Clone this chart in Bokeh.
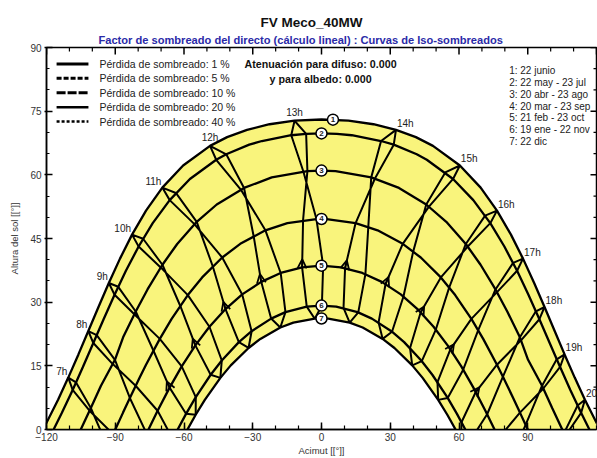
from bokeh.plotting import figure
from bokeh.models import Range1d, FixedTicker, Title, Arrow, OpenHead, ColumnDataSource, Label
from bokeh.core.properties import value
from bokeh.embed import file_html
from bokeh.resources import INLINE

FONT = "Liberation Sans"

TITLE = "FV Meco_40MW"
SUBTITLE = "Factor de sombreado del directo (cálculo lineal) : Curvas de Iso-sombreados"
X_LABEL = "Acimut [[°]]"
Y_LABEL = "Altura del sol [[°]]"
X_TICKS = [-120, -90, -60, -30, 0, 30, 60, 90, 120]
X_MINOR = [-120, -110, -100, -90, -80, -70, -60, -50, -40, -30, -20, -10, 0, 10, 20, 30, 40, 50, 60, 70, 80, 90, 100, 110, 120]
Y_TICKS = [0, 15, 30, 45, 60, 75, 90]
Y_MINOR = [0, 5, 10, 15, 20, 25, 30, 35, 40, 45, 50, 55, 60, 65, 70, 75, 80, 85, 90]

# ---- hour lines: sun position (azimut, altura) at each legal hour, per date ----
HOUR_LABELS = ["7h", "8h", "9h", "10h", "11h", "12h", "13h", "14h", "15h", "16h", "17h", "18h", "19h", "20h"]

jun22_az = [-110.5, -101.75, -92.8, -82.67, -69.45, -48.64, -11.76, 32.5, 60.38, 76.57, 87.93, 97.32, 106.07, 114.95]
jun22_alt = [12.23, 23.19, 34.51, 45.91, 56.99, 66.82, 72.75, 70.60, 62.2, 51.57, 40.26, 28.86, 17.69, 7.0]

may22_az = [-107.11, -98.10, -88.70, -77.86, -63.54, -41.56, -6.70, 31.53, 57.41, 73.65, 85.35, 95.08, 104.12, 113.28]
may22_alt = [11.09, 22.23, 33.62, 44.94, 55.73, 64.84, 69.64, 67.11, 59.03, 48.61, 37.39, 25.98, 14.73, 3.92]
jul23_az = [-108.58, -99.57, -90.30, -79.80, -66.24, -45.94, -13.20, 25.99, 54.02, 71.40, 83.62, 93.56, 102.65, 111.75]
jul23_alt = [9.32, 20.38, 31.76, 43.11, 54.04, 63.55, 69.33, 67.97, 60.56, 50.39, 39.25, 27.84, 16.54, 5.64]

apr20_az = [-100.66, -90.13, -81.06, -69.41, -54.45, -33.80, -6.15, 23.32, 46.89, 63.83, 76.59, 87.15, 96.80, 106.39]
apr20_alt = [5.07, 16.42, 27.80, 38.82, 48.92, 56.91, 60.87, 59.14, 52.51, 43.10, 32.36, 21.06, 9.66, -1.52]
aug23_az = [-101.22, -91.70, -81.68, -70.17, -55.46, -35.22, -7.91, 21.70, 45.71, 62.97, 75.92, 86.57, 96.24, 105.81]
aug23_alt = [4.42, 15.75, 27.14, 38.19, 48.38, 56.53, 60.79, 59.40, 53.01, 43.71, 33.00, 21.73, 10.32, -0.87]

mar20_az = [-93.4, -83.63, -73.36, -61.66, -47.46, -29.62, -8.04, 14.88, 35.45, 52.08, 65.40, 76.57, 86.60, 96.37]
mar20_alt = [-3.98, 7.43, 18.61, 29.16, 38.46, 45.60, 49.31, 48.63, 43.74, 35.83, 26.06, 15.27, 3.98, -7.43]
sep23_az = [-90.93, -81.11, -70.56, -58.33, -43.32, -24.47, -2.21, 20.43, 40.03, 55.74, 68.39, 79.18, 89.07, 98.89]
sep23_alt = [-1.09, 10.30, 21.35, 31.67, 40.52, 46.92, 49.57, 47.76, 41.97, 33.48, 23.40, 12.44, 1.09, -10.30]

feb21_az = [-85.87, -76.32, -66.28, -55.04, -41.89, -26.30, -8.46, 10.29, 27.95, 43.29, 56.23, 67.31, 77.27, 86.81]
feb21_alt = [-12.22, -0.95, 9.86, 19.82, 28.37, 34.79, 38.22, 38.03, 34.28, 27.61, 18.88, 8.83, -2.05, -13.34]
oct23_az = [-81.22, -71.52, -61.00, -48.90, -34.60, -17.81, 0.72, 19.16, 35.77, 49.89, 61.83, 72.28, 81.94, 91.55]
oct23_alt = [-6.68, 4.41, 14.86, 24.21, 31.83, 36.88, 38.59, 36.61, 31.33, 23.55, 14.10, 3.59, -7.53, -18.92]

jan19_az = [-77.78, -68.73, -59.11, -48.36, -36.06, -21.98, -6.44, 9.61, 24.91, 38.64, 50.61, 61.09, 70.56, 79.57]
jan19_alt = [-17.49, -6.57, 3.69, 12.90, 20.58, 26.13, 28.95, 28.63, 25.23, 19.20, 11.17, 1.72, -8.70, -19.72]
nov22_az = [-74.10, -64.88, -54.86, -43.52, -30.49, -15.73, 0.16, 16.04, 30.77, 43.76, 55.07, 65.07, 74.28, 83.27]
nov22_alt = [-12.94, -2.25, 7.62, 16.27, 23.15, 27.65, 29.20, 27.59, 23.04, 16.11, 7.43, -2.46, -13.17, -24.36]

dec22_az = [-73.4, -64.5, -54.9, -44.13, -31.83, -17.97, -2.94, 12.29, 26.68, 39.59, 50.92, 60.92, 70.04, 78.77]
dec22_alt = [-17.0, -6.38, 3.48, 12.16, 19.21, 24.03, 26.10, 25.17, 21.35, 15.11, 6.98, -2.48, -12.87, -23.9]

# ---- date curves (sun paths) ----
arc1_az = [-121.5, -114.95, -110.5, -106.07, -101.75, -97.32, -92.8, -87.93, -82.67, -76.57, -69.45, -60.38, -48.64, -41.19, -32.5, -22.67, -11.76, 0,
           11.76, 22.67, 32.5, 41.19, 48.64, 60.38, 69.45, 76.57, 82.67, 87.93, 92.8, 97.32, 101.75, 106.07, 110.5, 114.95, 121.5]
arc1_alt = [0, 7.0, 12.23, 17.69, 23.19, 28.86, 34.51, 40.26, 45.91, 51.57, 56.99, 62.2, 66.82, 68.88, 70.6, 71.92, 72.75, 73.04,
            72.75, 71.92, 70.6, 68.88, 66.82, 62.2, 56.99, 51.57, 45.91, 40.26, 34.51, 28.86, 23.19, 17.69, 12.23, 7.0, 0]
arc2_az = [-116.9, -113.28, -108.58, -104.12, -99.57, -95.08, -90.30, -85.35, -79.80, -73.65, -66.24, -57.41, -45.94, -41.56, -31.53, -25.99, -13.20, -6.70, 0,
           6.70, 13.20, 25.99, 31.53, 41.56, 45.94, 57.41, 66.24, 73.65, 79.80, 85.35, 90.30, 95.08, 99.57, 104.12, 108.58, 113.28, 116.9]
arc2_alt = [0, 3.92, 9.32, 14.73, 20.38, 25.98, 31.76, 37.39, 43.11, 48.61, 54.04, 59.03, 63.55, 64.84, 67.11, 67.97, 69.33, 69.64, 69.75,
            69.64, 69.33, 67.97, 67.11, 64.84, 63.55, 59.03, 54.04, 48.61, 43.11, 37.39, 31.76, 25.98, 20.38, 14.73, 9.32, 3.92, 0]
arc3_az = [-105.05, -100.66, -96.24, -90.13, -86.57, -81.06, -75.92, -69.41, -62.97, -54.45, -45.71, -33.80, -21.70, -6.15, 0,
           6.15, 21.70, 33.80, 45.71, 54.45, 62.97, 69.41, 75.92, 81.06, 86.57, 90.13, 96.24, 100.66, 105.05]
arc3_alt = [0, 5.07, 10.32, 16.42, 21.73, 27.80, 33.00, 38.82, 43.71, 48.92, 53.01, 56.91, 59.40, 60.87, 61.0,
            60.87, 59.40, 56.91, 53.01, 48.92, 43.71, 38.82, 33.00, 27.80, 21.73, 16.42, 10.32, 5.07, 0]
arc4_az = [-90, -86.60, -83.63, -79.18, -76.57, -70.56, -65.40, -58.33, -52.08, -43.32, -35.45, -24.47, -14.88, -2.21, 0,
           2.21, 14.88, 24.47, 35.45, 43.32, 52.08, 58.33, 65.40, 70.56, 76.57, 79.18, 83.63, 86.60, 90]
arc4_alt = [0, 3.98, 7.43, 12.44, 15.27, 21.35, 26.06, 31.67, 35.83, 40.52, 43.74, 46.92, 48.63, 49.57, 49.6,
            49.57, 48.63, 46.92, 43.74, 40.52, 35.83, 31.67, 26.06, 21.35, 15.27, 12.44, 7.43, 3.98, 0]
arc5_az = [-75.5, -71.52, -66.28, -61.00, -55.04, -48.90, -41.89, -34.60, -26.30, -17.81, -8.46, 0,
           8.46, 17.81, 26.30, 34.60, 41.89, 48.90, 55.04, 61.00, 66.28, 71.52, 75.5]
arc5_alt = [0, 4.41, 9.86, 14.86, 19.82, 24.21, 28.37, 31.83, 34.79, 36.88, 38.22, 38.6,
            38.22, 36.88, 34.79, 31.83, 28.37, 24.21, 19.82, 14.86, 9.86, 4.41, 0]
arc6_az = [-62.76, -59.11, -54.86, -48.36, -43.52, -36.06, -30.49, -21.98, -15.73, -6.44, 0,
           6.44, 15.73, 21.98, 30.49, 36.06, 43.52, 48.36, 54.86, 59.11, 62.76]
arc6_alt = [0, 3.69, 7.62, 12.90, 16.27, 20.58, 23.15, 26.13, 27.65, 28.95, 29.2,
            28.95, 27.65, 26.13, 23.15, 20.58, 16.27, 12.90, 7.62, 3.69, 0]
arc7_az = [-58.5, -54.9, -50.92, -44.13, -39.59, -31.83, -26.68, -17.97, -12.29, -2.94, 0,
           2.94, 12.29, 17.97, 26.68, 31.83, 39.59, 44.13, 50.92, 54.9, 58.5]
arc7_alt = [0, 3.48, 6.98, 12.16, 15.11, 19.21, 21.35, 24.03, 25.17, 26.10, 26.16,
            26.10, 25.17, 24.03, 21.35, 19.21, 15.11, 12.16, 6.98, 3.48, 0]

# date markers
MARKER_LABELS = ["1", "2", "3", "4", "5", "6", "7"]
marker_az = [5.0, 0, 0, 0, 0, 0, 0]
marker_alt = [73.0, 69.75, 61.0, 49.6, 38.6, 29.2, 26.16]

DATE_LEGEND = ["1: 22 junio", "2: 22 may - 23 jul", "3: 20 abr - 23 ago", "4: 20 mar - 23 sep",
               "5: 21 feb - 23 oct", "6: 19 ene - 22 nov", "7: 22 dic"]
LOSS_LEGEND = ["Pérdida de sombreado: 1 %", "Pérdida de sombreado: 5 %", "Pérdida de sombreado: 10 %",
               "Pérdida de sombreado: 20 %", "Pérdida de sombreado: 40 %"]
ATTEN_TEXT = ["Atenuación para difuso: 0.000", "y para albedo: 0.000"]

# ------------------------------------------------------------------
X0, X1, Y0, Y1 = -120, 120, 0, 90
FRAME_W, FRAME_H = 550.0, 384.0
p = figure(width=597, height=458, x_range=Range1d(X0, X1), y_range=Range1d(Y0, Y1),
           output_backend="svg", toolbar_location=None, title=None,
           min_border_left=46, min_border_right=1, min_border_top=47, min_border_bottom=27,
           background_fill_color="white", border_fill_color="white")
p.grid.visible = False
p.outline_line_color = "black"
p.outline_line_width = 1.5

PX_X = FRAME_W / (X1 - X0)   # pixels per degree of azimut
PX_Y = FRAME_H / (Y1 - Y0)   # pixels per degree of altura


def style_axis(ax):
    ax.axis_line_color = "black"
    ax.axis_line_width = 1.5
    ax.major_tick_line_color = "black"
    ax.minor_tick_line_color = "black"
    ax.major_tick_line_width = 1.5
    ax.minor_tick_line_width = 1.2
    ax.major_label_text_font = FONT
    ax.major_label_text_color = "#333333"
    ax.axis_label_text_font = FONT
    ax.axis_label_text_font_style = "normal"
    ax.axis_label_text_color = "#333333"


xa = p.xaxis[0]
xa.ticker = FixedTicker(ticks=X_TICKS[:-1], minor_ticks=X_MINOR)
style_axis(xa)
xa.major_tick_in = 7
xa.major_tick_out = 0
xa.minor_tick_in = 4
xa.minor_tick_out = 0
xa.major_label_text_font_size = "10px"
xa.major_label_standoff = 3
xa.axis_label = X_LABEL
xa.axis_label_text_font_size = "9.5px"
xa.axis_label_standoff = 1

ya = p.yaxis[0]
ya.ticker = FixedTicker(ticks=Y_TICKS, minor_ticks=Y_MINOR)
style_axis(ya)
ya.major_tick_in = 6
ya.major_tick_out = 2
ya.minor_tick_in = 3
ya.minor_tick_out = 0
ya.major_label_text_font_size = "10px"
ya.major_label_standoff = 3
ya.axis_label = Y_LABEL
ya.axis_label_text_font_size = "9.5px"
ya.axis_label_standoff = 7

# last x tick label, cut by the right edge as in the original
p.add_layout(Label(x=X_TICKS[-1], y=Y0, text=str(X_TICKS[-1]), text_align="center", text_baseline="top",
                   y_offset=-3, text_font=FONT, text_font_size="10px", text_color="#333333"))

# tick marks on the top and right frame edges
top_major = [t for t in X_TICKS]
top_minor = [t for t in X_MINOR if t not in X_TICKS]
p.segment(top_major, [Y1] * len(top_major), top_major, [Y1 - 7 / PX_Y] * len(top_major),
          line_color="black", line_width=1.5)
p.segment(top_minor, [Y1] * len(top_minor), top_minor, [Y1 - 4 / PX_Y] * len(top_minor),
          line_color="black", line_width=1.2)
right_major = [t for t in Y_TICKS]
right_minor = [t for t in Y_MINOR if t not in Y_TICKS]
p.segment([X1] * len(right_major), right_major, [X1 - 6 / PX_X] * len(right_major), right_major,
          line_color="black", line_width=1.5)
p.segment([X1] * len(right_minor), right_minor, [X1 - 3 / PX_X] * len(right_minor), right_minor,
          line_color="black", line_width=1.2)

p.add_layout(Title(text=SUBTITLE, align="left", offset=52, text_font=FONT, text_font_size="11.1px",
                   text_font_style="bold", text_color="#2a2aa8", standoff=3), "above")
p.add_layout(Title(text=TITLE, align="left", offset=214, text_font=FONT, text_font_size="13.5px",
                   text_font_style="bold", text_color="#111111", standoff=1), "above")

# yellow band between June and December paths
band_x = arc1_az + arc7_az[::-1]
band_y = arc1_alt + arc7_alt[::-1]
p.patch(band_x, band_y, fill_color="#F9F47C", line_color=None)

# hour lines (analemma loops)
seq_az = [dec22_az, jan19_az, feb21_az, mar20_az, apr20_az, may22_az, jun22_az,
          jul23_az, aug23_az, sep23_az, oct23_az, nov22_az, dec22_az]
seq_alt = [dec22_alt, jan19_alt, feb21_alt, mar20_alt, apr20_alt, may22_alt, jun22_alt,
           jul23_alt, aug23_alt, sep23_alt, oct23_alt, nov22_alt, dec22_alt]
hx = [[s[i] for s in seq_az] for i in range(len(HOUR_LABELS))]
hy = [[s[i] for s in seq_alt] for i in range(len(HOUR_LABELS))]
p.multi_line(hx, hy, line_color="black", line_width=2.0)

# date curves
p.multi_line([arc1_az, arc2_az, arc3_az, arc4_az, arc5_az, arc6_az, arc7_az],
             [arc1_alt, arc2_alt, arc3_alt, arc4_alt, arc5_alt, arc6_alt, arc7_alt],
             line_color="black", line_width=2.3)

# direction arrows on the February branch
idx = [i for i in range(len(HOUR_LABELS)) if feb21_alt[i] > 0]
arrow_src = ColumnDataSource(dict(
    xs=[feb21_az[i] for i in idx], ys=[feb21_alt[i] for i in idx],
    xe=[feb21_az[i] + 0.17 * (mar20_az[i] - feb21_az[i]) for i in idx],
    ye=[feb21_alt[i] + 0.17 * (mar20_alt[i] - feb21_alt[i]) for i in idx]))
p.add_layout(Arrow(x_start="xs", y_start="ys", x_end="xe", y_end="ye", source=arrow_src,
                   line_color="black", line_width=1.5,
                   end=OpenHead(size=9, line_width=1.8, line_color="black")))

# hour labels at the June path
lab_font = value(FONT)
morning = [i for i in range(len(HOUR_LABELS)) if i <= 4]
noon = [5, 6]
evening = [i for i in range(len(HOUR_LABELS)) if i >= 7]
p.text([jun22_az[i] for i in morning], [jun22_alt[i] for i in morning], [HOUR_LABELS[i] for i in morning],
       text_font=lab_font, text_font_size="10px", text_color="#222222",
       text_align="right", text_baseline="bottom", x_offset=-1, y_offset=-1)
p.text([jun22_az[i] for i in noon], [jun22_alt[i] for i in noon], [HOUR_LABELS[i] for i in noon],
       text_font=lab_font, text_font_size="10px", text_color="#222222",
       text_align="center", text_baseline="bottom", x_offset=0, y_offset=-3)
p.text([jun22_az[i] for i in evening], [jun22_alt[i] for i in evening], [HOUR_LABELS[i] for i in evening],
       text_font=lab_font, text_font_size="10px", text_color="#222222",
       text_align="left", text_baseline="bottom", x_offset=1, y_offset=-1)

# date markers
p.scatter(marker_az, marker_alt, marker="circle", size=11, fill_color="white",
          line_color="black", line_width=1.5)
p.text(marker_az, marker_alt, MARKER_LABELS, text_font=lab_font, text_font_size="8px",
       text_font_style="bold", text_align="center", text_baseline="middle", text_color="#222222")

# legends (inside plot area)
loss_rows = [86.13, 82.73, 79.34, 75.94, 72.54]
loss_dash = ["solid", "5 2", "9 2", "solid", "3 2"]
loss_w = [3, 3, 3, 2.5, 2.5]
for r, d, w in zip(loss_rows, loss_dash, loss_w):
    p.line([-115.6, -101.7], [r, r], line_color="black", line_width=w, line_dash=d)
p.text([-96.9] * 5, loss_rows, LOSS_LEGEND, text_font=lab_font, text_font_size="10.5px",
       text_color="#222222", text_align="left", text_baseline="middle")

p.text([-0.4, -0.4], [86.13, 82.5], ATTEN_TEXT, text_font=lab_font, text_font_size="10.7px",
       text_font_style="bold", text_color="#111111", text_align="center", text_baseline="middle")

date_rows = [84.5, 81.73, 78.96, 76.19, 73.42, 70.65, 67.88]
p.text([81.9] * 7, date_rows, DATE_LEGEND, text_font=lab_font, text_font_size="10px",
       text_color="#222222", text_align="left", text_baseline="middle")

open("out.html", "w").write(file_html(p, INLINE))
